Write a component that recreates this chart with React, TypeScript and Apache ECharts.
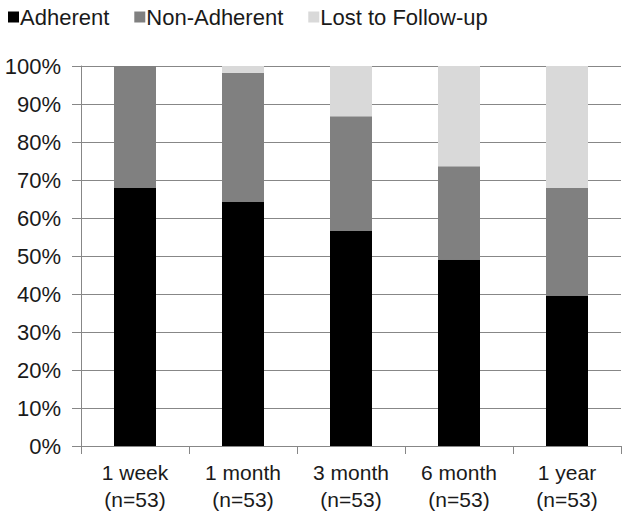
import React, { useEffect, useRef } from "react";
import * as echarts from "echarts";

const categories = ["1 week\n(n=53)", "1 month\n(n=53)", "3 month\n(n=53)", "6 month\n(n=53)", "1 year\n(n=53)"];
const adherent = [67.9, 64.2, 56.6, 49.1, 39.6];
const nonAdherent = [32.1, 34.0, 30.2, 24.5, 28.3];
const lostToFollowUp = [0, 1.9, 13.2, 26.4, 32.1];

const FONT = "'Liberation Sans', Arial, sans-serif";

export default function App() {
  const ref = useRef<HTMLDivElement>(null);
  useEffect(() => {
    if (!ref.current) return;
    const chart = echarts.init(ref.current, undefined, { renderer: "svg" });
    const axisColor = "#878787";
    chart.setOption({
      animation: false,
      backgroundColor: "#ffffff",
      textStyle: { fontFamily: FONT },
      legend: {
        left: 3,
        top: 1,
        itemWidth: 11,
        itemHeight: 11,
        itemGap: 25,
        icon: "rect",
        textStyle: { fontSize: 22, color: "#1a1a1a", fontFamily: FONT, padding: [0, 0, 0, -4] },
        data: ["Adherent", "Non-Adherent", "Lost to Follow-up"],
      },
      grid: { left: 81, right: 2, top: 66, bottom: 70, containLabel: false },
      xAxis: {
        type: "category",
        data: categories,
        axisLine: { lineStyle: { color: axisColor, width: 1 } },
        axisTick: { show: true, length: 8, lineStyle: { color: axisColor } },
        axisLabel: { fontSize: 21, color: "#1a1a1a", lineHeight: 27, margin: 13, fontFamily: FONT, interval: 0 },
      },
      yAxis: {
        type: "value",
        min: 0,
        max: 100,
        interval: 10,
        axisLine: { show: true, lineStyle: { color: axisColor, width: 1 } },
        axisTick: { show: true, length: 9, lineStyle: { color: axisColor } },
        axisLabel: { formatter: "{value}%", fontSize: 22, color: "#1a1a1a", margin: 20, fontFamily: FONT },
        splitLine: { show: true, lineStyle: { color: axisColor, width: 1 } },
      },
      series: [
        { name: "Adherent", type: "bar", stack: "s", data: adherent, barWidth: 42, itemStyle: { color: "#000000" } },
        { name: "Non-Adherent", type: "bar", stack: "s", data: nonAdherent, barWidth: 42, itemStyle: { color: "#808080" } },
        { name: "Lost to Follow-up", type: "bar", stack: "s", data: lostToFollowUp, barWidth: 42, itemStyle: { color: "#d9d9d9" } },
      ],
    });
    return () => chart.dispose();
  }, []);
  return <div ref={ref} style={{ position: "fixed", left: 0, top: 0, width: 623, height: 516 }} />;
}
